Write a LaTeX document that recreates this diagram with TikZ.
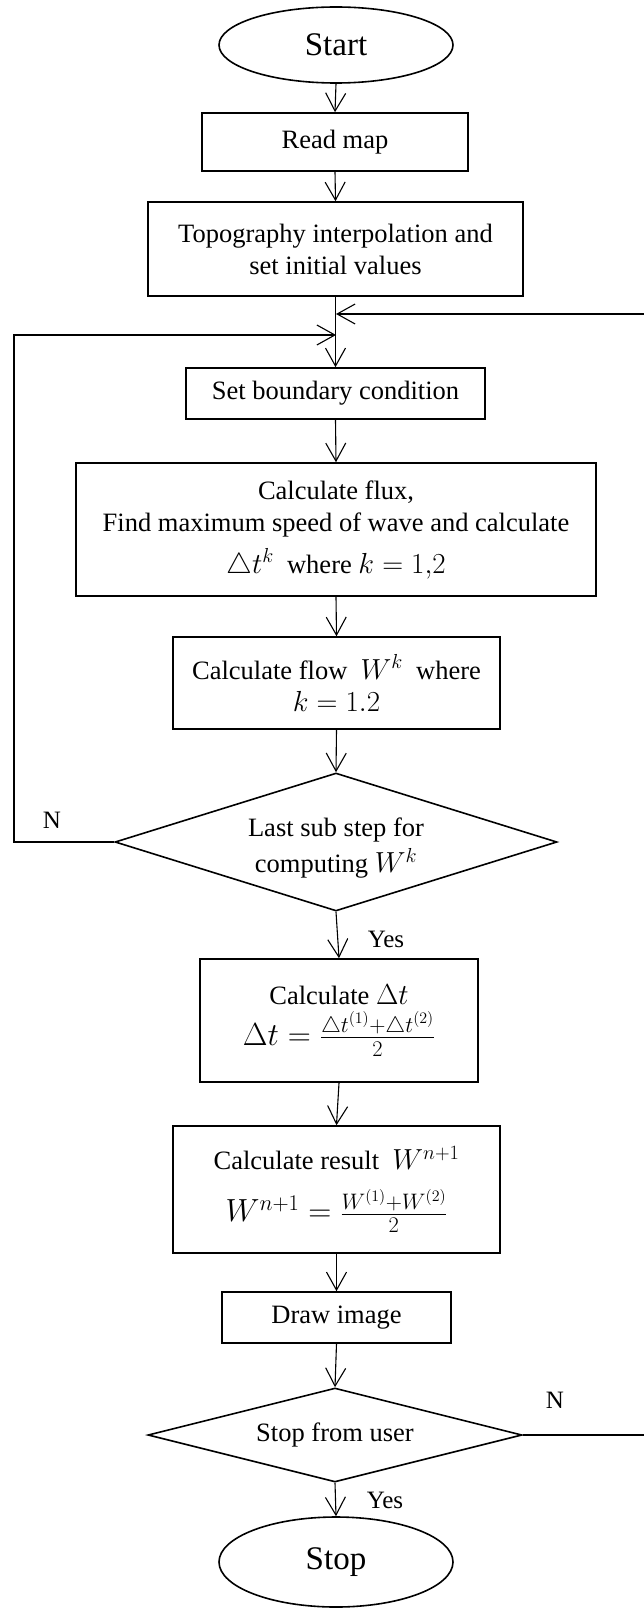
\RequirePackage{fix-cm}
\documentclass[tikz,border=0pt]{standalone}
\usepackage[no-math]{fontspec}
\setmainfont{Liberation Serif}
\usetikzlibrary{shapes.geometric,arrows.meta}
\newcommand\bodyfont{\fontsize{26.5}{32}\selectfont}
\newcommand\termfont{\fontsize{33}{38}\selectfont}
\newcommand\lblfont{\fontsize{25}{30}\selectfont}
\newcommand\mth[1]{{\fontsize{29}{32}\selectfont$#1$}}
\newcommand\frm[1]{{\fontsize{32}{34}\selectfont$#1$}}
\begin{document}
\begin{tikzpicture}[x=1pt,y=-1pt,
  box/.style={draw, line width=1.6pt, align=center, inner sep=0pt, font=\bodyfont},
  term/.style={draw, ellipse, line width=1.6pt, minimum width=234pt, inner sep=0pt, font=\termfont},
  dec/.style={draw, diamond, line width=1.6pt, align=center, inner sep=0pt, font=\bodyfont},
  arr/.style={line width=1.1pt, -{Straight Barb[length=18pt,width=20pt]}},
  lbl/.style={font=\lblfont, inner sep=0pt}]
\useasboundingbox (0,0) rectangle (643,1608);

\node[term, minimum height=76pt] (start) at (336,45) {Start};
\node[box, minimum width=266pt, minimum height=58pt] (read) at (335,142) {Read map};
\node[box, minimum width=375pt, minimum height=94pt] (topo) at (335.5,249) {Topography interpolation and\\set initial values};
\node[box, minimum width=299pt, minimum height=51pt] (setbc) at (335.5,393.5) {Set boundary condition};
\node[box, minimum width=520pt, minimum height=133pt] (flux) at (336,529.5) {Calculate flux,\\Find maximum speed of wave and calculate\\[10pt]\mth{\triangle t^{k}}~~where~\mth{k=1{,}2}};
\node[box, minimum width=327pt, minimum height=92pt] (flow) at (336.5,683) {Calculate flow~~\mth{W^{k}}~~where\\\mth{k=1.2}};
\node[dec, minimum width=442pt, minimum height=138pt, aspect=3.2] (dec1) at (336,842) {\rule{0pt}{31pt}Last sub step for\\[4pt]computing~\mth{W^{k}}};
\node[box, minimum width=278pt, minimum height=123pt] (dt) at (339,1020.5) {Calculate~\mth{\Delta t}\\[6pt]\frm{\Delta t=\frac{\triangle t^{(1)}+\triangle t^{(2)}}{2}}};
\node[box, minimum width=327pt, minimum height=127pt] (res) at (336.5,1189.5) {Calculate result~~\mth{W^{n+1}}\\[18pt]\frm{W^{n+1}=\frac{W^{(1)}+W^{(2)}}{2}}};
\node[box, minimum width=229pt, minimum height=51pt] (drawimg) at (336.5,1317.5) {Draw image};
\node[dec, minimum width=374pt, minimum height=94pt, aspect=4] (dec2) at (335,1435) {Stop from user};
\node[term, minimum height=90pt] (stop) at (336,1562) {Stop};

\coordinate (jr) at (336,314);
\coordinate (jl) at (336,335);
\coordinate (rtop) at (645,314);
\coordinate (ltop) at (14,335);

\draw[arr] (start.south) -- (read.north);
\draw[arr] (read.south) -- (topo.north);
\draw[arr] (topo.south) -- (setbc.north);
\draw[arr] (setbc.south) -- (flux.north);
\draw[arr] (flux.south) -- (flow.north);
\draw[arr] (flow.south) -- (dec1.north);
\draw[arr] (dec1.south) -- (dt.north);
\draw[arr] (dt.south) -- (res.north);
\draw[arr] (res.south) -- (drawimg.north);
\draw[arr] (drawimg.south) -- (dec2.north);
\draw[arr] (dec2.south) -- (stop.north);
\draw[arr] (dec2.east) -- (dec2.east -| rtop) -- (rtop) -- (jr);
\draw[arr] (dec1.west) -- (dec1.west -| ltop) -- (ltop) -- (jl);

\node[lbl] (n1) at (52,820) {N};
\node[lbl] (y1) at (386,939) {Yes};
\node[lbl] (n2) at (555,1400) {N};
\node[lbl] (y2) at (385,1500) {Yes};
\end{tikzpicture}
\end{document}
